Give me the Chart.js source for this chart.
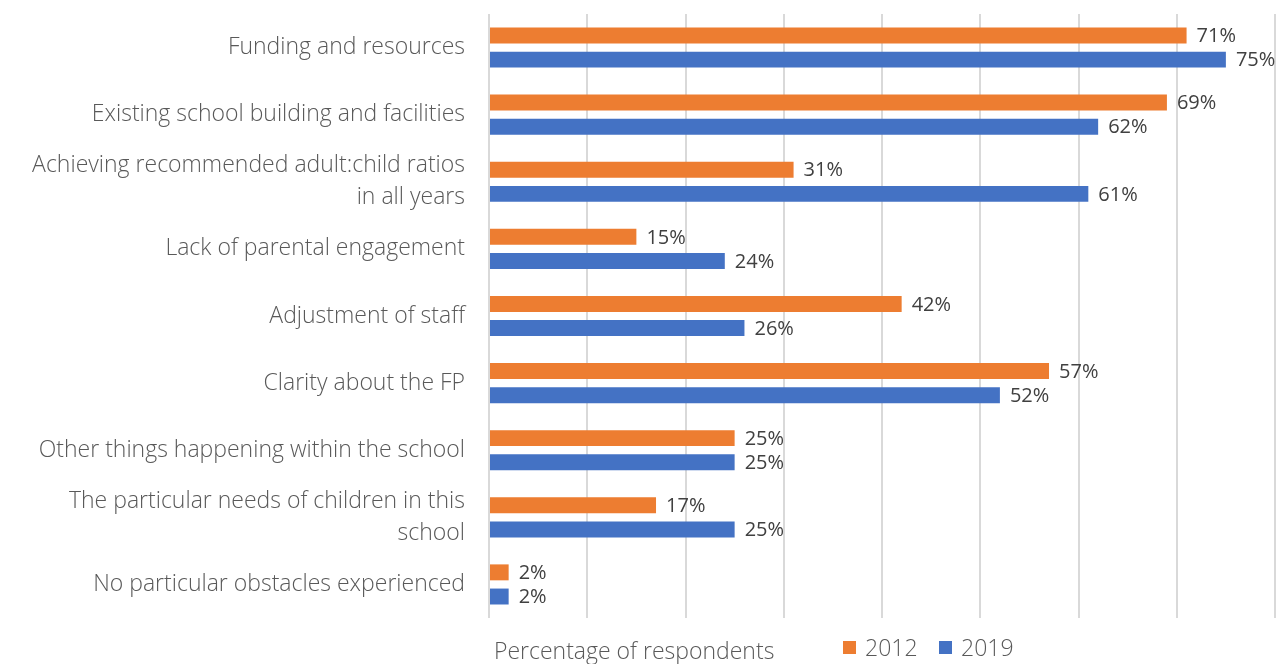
<!DOCTYPE html>
<html>
<head>
<meta charset="utf-8">
<script src="https://cdn.jsdelivr.net/npm/chart.js@4.4.1/dist/chart.umd.min.js"></script>
<style>
  html, body { margin: 0; padding: 0; background: #fff; }
  #wrap { width: 1279px; height: 664px; position: relative; }
</style>
</head>
<body>
<div id="wrap"><canvas id="obstacles"></canvas></div>
<script>
const categories = [
	'Funding and resources',
	'Existing school building and facilities',
	['Achieving recommended adult:child ratios', 'in all years'],
	'Lack of parental engagement',
	'Adjustment of staff',
	'Clarity about the FP',
	'Other things happening within the school',
	['The particular needs of children in this', 'school'],
	'No particular obstacles experienced',
];
const values2012 = [71, 69, 31, 15, 42, 57, 25, 17, 2];
const values2019 = [75, 62, 61, 24, 26, 52, 25, 25, 2];
const seriesNames = ['2012', '2019'];
const axisTitle = 'Percentage of respondents';

const orange = '#ED7D31';
const blue = '#4472C4';
const labelFont = '"Open Sans", "Noto Sans", sans-serif';

// value labels at the end of each bar
const barLabels = {
	id: 'barLabels',
	afterDatasetsDraw(chart) {
		const ctx = chart.ctx;
		ctx.save();
		ctx.font = '20px ' + labelFont;
		ctx.fillStyle = '#404040';
		ctx.textBaseline = 'middle';
		ctx.textAlign = 'left';
		chart.data.datasets.forEach((ds, i) => {
			chart.getDatasetMeta(i).data.forEach((bar, j) => {
				ctx.fillText(ds.data[j] + '%', bar.x + 10, bar.y + 1);
			});
		});
		ctx.restore();
	},
};

// axis title + legend along the bottom
const bottomLegend = {
	id: 'bottomLegend',
	afterDraw(chart) {
		const ctx = chart.ctx;
		ctx.save();
		ctx.font = '300 23px ' + labelFont;
		ctx.fillStyle = '#595959';
		ctx.textBaseline = 'alphabetic';
		ctx.textAlign = 'left';
		ctx.fillText(axisTitle, 494, 659);
		let x = 843;
		chart.data.datasets.forEach((ds) => {
			ctx.fillStyle = ds.backgroundColor;
			ctx.fillRect(x, 641, 13, 13);
			ctx.fillStyle = '#595959';
			ctx.fillText(ds.label, x + 22, 656);
			x += 96;
		});
		ctx.restore();
	},
};

new Chart(document.getElementById('obstacles'), {
	type: 'bar',
	data: {
		labels: categories,
		datasets: [
			{ label: seriesNames[0], data: values2012, backgroundColor: orange },
			{ label: seriesNames[1], data: values2019, backgroundColor: blue },
		],
	},
	options: {
		indexAxis: 'y',
		responsive: true,
		maintainAspectRatio: false,
		animation: false,
		categoryPercentage: 0.72,
		barPercentage: 0.66,
		layout: { padding: { top: 14, right: 4, bottom: 46, left: 0 } },
		plugins: {
			legend: { display: false },
			tooltip: { enabled: false },
		},
		scales: {
			x: {
				min: 0,
				max: 80,
				ticks: { display: false, stepSize: 10 },
				grid: { color: '#d9d9d9', lineWidth: 2, drawTicks: false },
				border: { display: false },
				afterFit(scale) { scale.height = 0; },
			},
			y: {
				grid: { display: false },
				border: { display: false },
				ticks: {
					color: '#595959',
					font: { family: labelFont, size: 23, weight: '300', lineHeight: 1.38 },
					padding: 16,
				},
				afterFit(scale) {
					scale.width = 489;
					scale.paddingTop = 0;
					scale.paddingBottom = 0;
				},
			},
		},
	},
	plugins: [barLabels, bottomLegend],
});
</script>
</body>
</html>
